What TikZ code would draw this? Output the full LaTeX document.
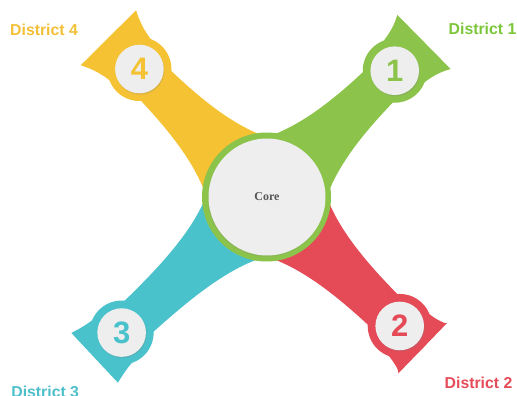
\documentclass[tikz,border=0pt]{standalone}
\usepackage{fontspec}
\setmainfont{Liberation Sans}
\newfontfamily\coreserif{Liberation Serif}
\usetikzlibrary{shadows}
\definecolor{agreen}{HTML}{8CC34B}
\definecolor{ayellow}{HTML}{F4C232}
\definecolor{ateal}{HTML}{4AC2CB}
\definecolor{ared}{HTML}{E54A57}
\definecolor{tgreen}{HTML}{7CC63A}
\definecolor{tyellow}{HTML}{F2BF36}
\definecolor{tteal}{HTML}{4CBFCB}
\definecolor{tred}{HTML}{E54B58}
\definecolor{badgegray}{HTML}{EEEEEE}
\definecolor{coretext}{HTML}{555555}
\newcommand\DistArm[6]{%
\begin{scope}[shift={(266.5,-197)}, rotate=#1]
\fill[#5] (30,-49) .. controls (65,-28) and (110,-21) .. (#2,-21) -- (#2,-28)
  .. controls ({#2+22},-29) and ({#2+32},-33) .. ({#2+#3},-#4) -- ({#2+#3},#4)
  .. controls ({#2+32},33) and ({#2+22},29) .. (#2,28) -- (#2,21)
  .. controls (110,21) and (65,28) .. (30,49) -- cycle;
\node[halo, fill=#5] (h#6) at (#2,0) {};
\node[badge, text=#5] (b#6) at (#2,0) {#6};
\end{scope}}
\begin{document}
\begin{tikzpicture}[x=1pt,y=1pt,
  halo/.style={circle, minimum size=64pt, inner sep=0pt},
  badge/.style={circle, fill=badgegray, minimum size=48.6pt, inner sep=0pt,
    drop shadow={shadow xshift=0.8pt, shadow yshift=-1.4pt, opacity=0.22},
    font=\bfseries\fontsize{31}{31}\selectfont},
  distlabel/.style={anchor=base west, inner sep=0pt, font=\bfseries\fontsize{15.8}{16}\selectfont}]
\useasboundingbox (0,0) rectangle (517,-396);
\DistArm{44.56}{180}{41}{38}{agreen}{1}
\DistArm{134.8}{180.4}{44}{39}{ayellow}{4}
\DistArm{223.1}{198.4}{37}{34}{ateal}{3}
\DistArm{-44.07}{185.4}{32}{35.5}{ared}{2}
\node[circle, fill=agreen, minimum size=129pt, inner sep=0pt] (ring) at (266.5,-197) {};
\node[circle, fill=badgegray, minimum size=117pt, inner sep=0pt,
  drop shadow={shadow xshift=-0.6pt, shadow yshift=-1.2pt, opacity=0.2},
  text=coretext, font=\coreserif\bfseries\fontsize{12}{12}\selectfont] (core) at (267,-197) {Core};
\node[distlabel, text=tgreen] (d1) at (448.5,-35) {District 1};
\node[distlabel, text=tyellow] (d4) at (10,-36) {District 4};
\node[distlabel, text=tteal] (d3) at (11.2,-397) {District 3};
\node[distlabel, text=tred] (d2) at (444.5,-388.5) {District 2};
\end{tikzpicture}
\end{document}
